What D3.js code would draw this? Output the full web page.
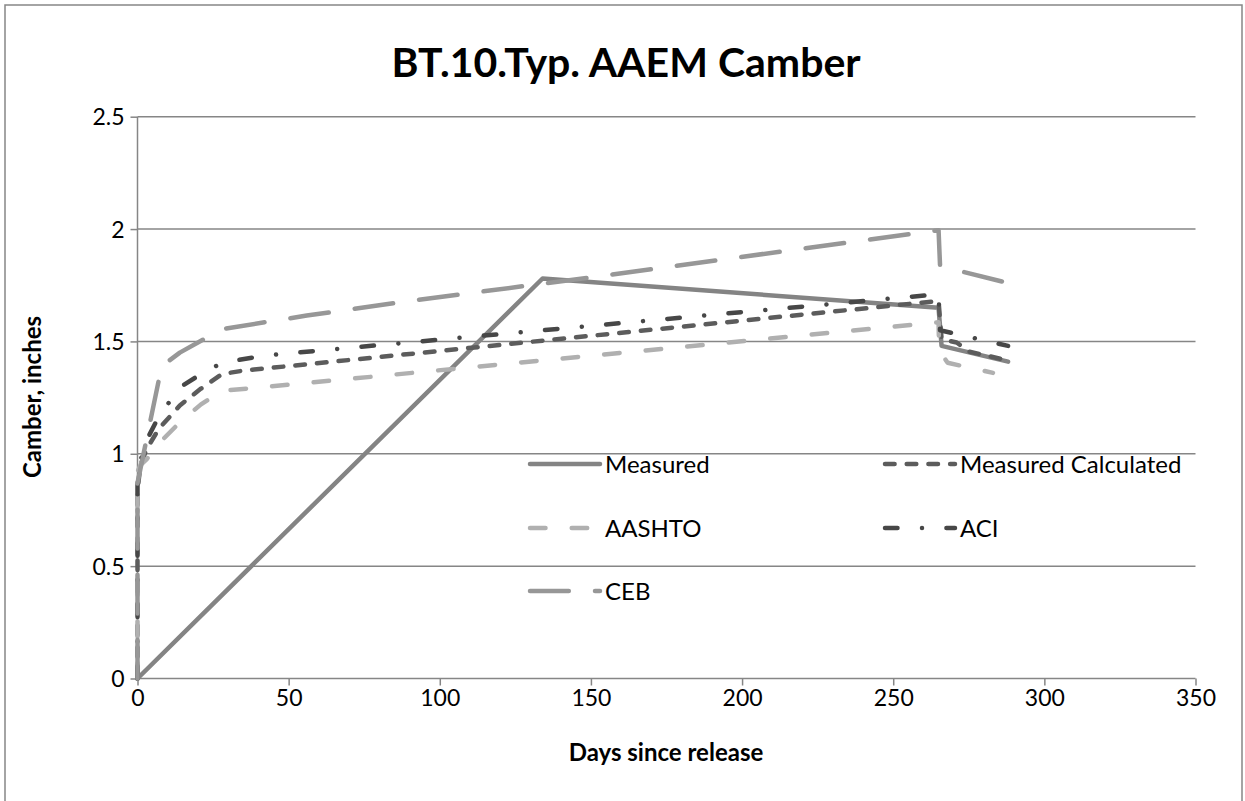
<!DOCTYPE html>
<html><head><meta charset="utf-8">
<script src="https://cdn.jsdelivr.net/npm/d3@7"></script>
<style>
html,body{margin:0;padding:0;background:#fff;}
svg{display:block;}
text{font-family:Lato,"Open Sans",sans-serif;fill:#000;}
</style></head>
<body>
<script>
// ---- data ----
const title = "BT.10.Typ. AAEM Camber";
const xTitle = "Days since release";
const yTitle = "Camber, inches";
const xTicks = [0, 50, 100, 150, 200, 250, 300, 350];
const yTicks = [0, 0.5, 1, 1.5, 2, 2.5];
const yTickLabels = ["0", "0.5", "1", "1.5", "2", "2.5"];

const measuredDays = [0, 134, 265, 266, 288];
const measuredVals = [0, 1.78, 1.65, 1.48, 1.41];

const measCalcDays = [0, 0, 1, 3, 7, 14, 21, 28, 35, 265, 266, 271, 275, 288];
const measCalcVals = [0, 0.84, 0.95, 1.02, 1.11, 1.215, 1.29, 1.355, 1.37, 1.68, 1.51, 1.495, 1.455, 1.415];

const aashtoDays = [0, 0, 1, 3, 7, 14, 21, 28, 56, 265, 265.2, 268, 283];
const aashtoVals = [0, 0.92, 0.95, 0.975, 1.045, 1.14, 1.22, 1.28, 1.315, 1.585, 1.46, 1.405, 1.36];

const aciDays = [0, 0, 1, 3, 7, 14, 21, 28, 42, 265, 265.5, 288];
const aciVals = [0, 0.86, 0.97, 1.06, 1.165, 1.295, 1.355, 1.405, 1.437, 1.71, 1.55, 1.48];

const cebDays = [0, 0, 8, 14, 28, 56, 90, 150, 265, 265.5, 288];
const cebVals = [0, 0.87, 1.39, 1.45, 1.555, 1.615, 1.68, 1.785, 1.995, 1.835, 1.76];

const seriesNames = ["Measured", "Measured Calculated", "AASHTO", "ACI", "CEB"];

// ---- styles ----
const styles = {
  "Measured": {color: "#848484", dash: null},
  "Measured Calculated": {color: "#5c5c5c", dash: "9.6,12.1"},
  "AASHTO": {color: "#b0b0b0", dash: "15.5,26.2"},
  "ACI": {color: "#474747", dash: "12.5,24.5,0.01,24.4"},
  "CEB": {color: "#979797", dash: "38.8,26.2"}
};
const series = [
  {name: "Measured", days: measuredDays, vals: measuredVals},
  {name: "Measured Calculated", days: measCalcDays, vals: measCalcVals},
  {name: "AASHTO", days: aashtoDays, vals: aashtoVals},
  {name: "ACI", days: aciDays, vals: aciVals},
  {name: "CEB", days: cebDays, vals: cebVals}
];

const W = 1245, H = 801;
const svg = d3.select("body").append("svg").attr("width", W).attr("height", H);
const gridColor = "#868686";
const lw = 4.5;

// chart border
svg.append("rect").attr("x", 5).attr("y", 5).attr("width", 1237).attr("height", 810)
  .attr("fill", "#fff").attr("stroke", gridColor).attr("stroke-width", 1.5);

const x = d3.scaleLinear().domain([0, 350]).range([137.5, 1195.5]);
const y = d3.scaleLinear().domain([0, 2.5]).range([678.5, 116.7]);

// gridlines
svg.append("g").selectAll("line").data(yTicks.filter(d => d > 0)).join("line")
  .attr("x1", x(0)).attr("x2", x(350)).attr("y1", d => y(d)).attr("y2", d => y(d))
  .attr("stroke", gridColor).attr("stroke-width", 1.5);

// axes
const yAxis = d3.axisLeft(y).tickValues(yTicks).tickSize(7).tickPadding(6)
  .tickFormat((d, i) => yTickLabels[i]);
const gy = svg.append("g").attr("transform", `translate(${x(0)},0)`).call(yAxis);
const xAxis = d3.axisBottom(x).tickValues(xTicks).tickSize(7).tickPadding(4);
const gx = svg.append("g").attr("transform", `translate(0,${y(0)})`).call(xAxis);
[gx, gy].forEach(g => {
  g.select(".domain").attr("stroke", gridColor).attr("stroke-width", 1.5);
  g.selectAll(".tick line").attr("stroke", gridColor).attr("stroke-width", 1.5);
  g.selectAll(".tick text").attr("fill", "#000").style("font-size", "23px")
    .style("font-family", "Lato, sans-serif");
});
gy.select(".domain").attr("d", `M0,${y(0)}V${y(2.5)}`);
gx.select(".domain").attr("d", `M${x(0)},0H${x(350)}`);
gy.selectAll(".tick text").attr("dy", "0.35em");

// series lines
const line = d3.line().x(d => x(d[0])).y(d => y(d[1]));
series.forEach(s => {
  const pts = s.days.map((d, i) => [d, s.vals[i]]);
  const st = styles[s.name];
  svg.append("path").attr("d", line(pts)).attr("fill", "none")
    .attr("stroke", st.color).attr("stroke-width", lw)
    .attr("stroke-linecap", "round").attr("stroke-linejoin", "round")
    .attr("stroke-dasharray", st.dash);
});

// legend
const legendPos = [[528, 464], [883, 464], [528, 528], [883, 528], [528, 591]];
const lg = svg.append("g");
seriesNames.forEach((n, i) => {
  const [lx, ly] = legendPos[i];
  const st = styles[n];
  lg.append("line").attr("x1", lx + 2).attr("x2", lx + 72).attr("y1", ly).attr("y2", ly)
    .attr("stroke", st.color).attr("stroke-width", lw).attr("stroke-linecap", "round")
    .attr("stroke-dasharray", st.dash);
  lg.append("text").attr("x", lx + 77).attr("y", ly + 8.5).style("font-size", "24px").text(n);
});

// titles
svg.append("text").attr("x", 626).attr("y", 77).attr("text-anchor", "middle")
  .style("font-size", "41px").style("font-weight", "bold").text(title);
svg.append("text").attr("x", 666).attr("y", 761).attr("text-anchor", "middle")
  .style("font-size", "24px").style("font-weight", "bold").text(xTitle);
svg.append("text").attr("transform", "translate(41,397) rotate(-90)").attr("text-anchor", "middle")
  .style("font-size", "24px").style("font-weight", "bold").text(yTitle);
</script>
</body></html>
